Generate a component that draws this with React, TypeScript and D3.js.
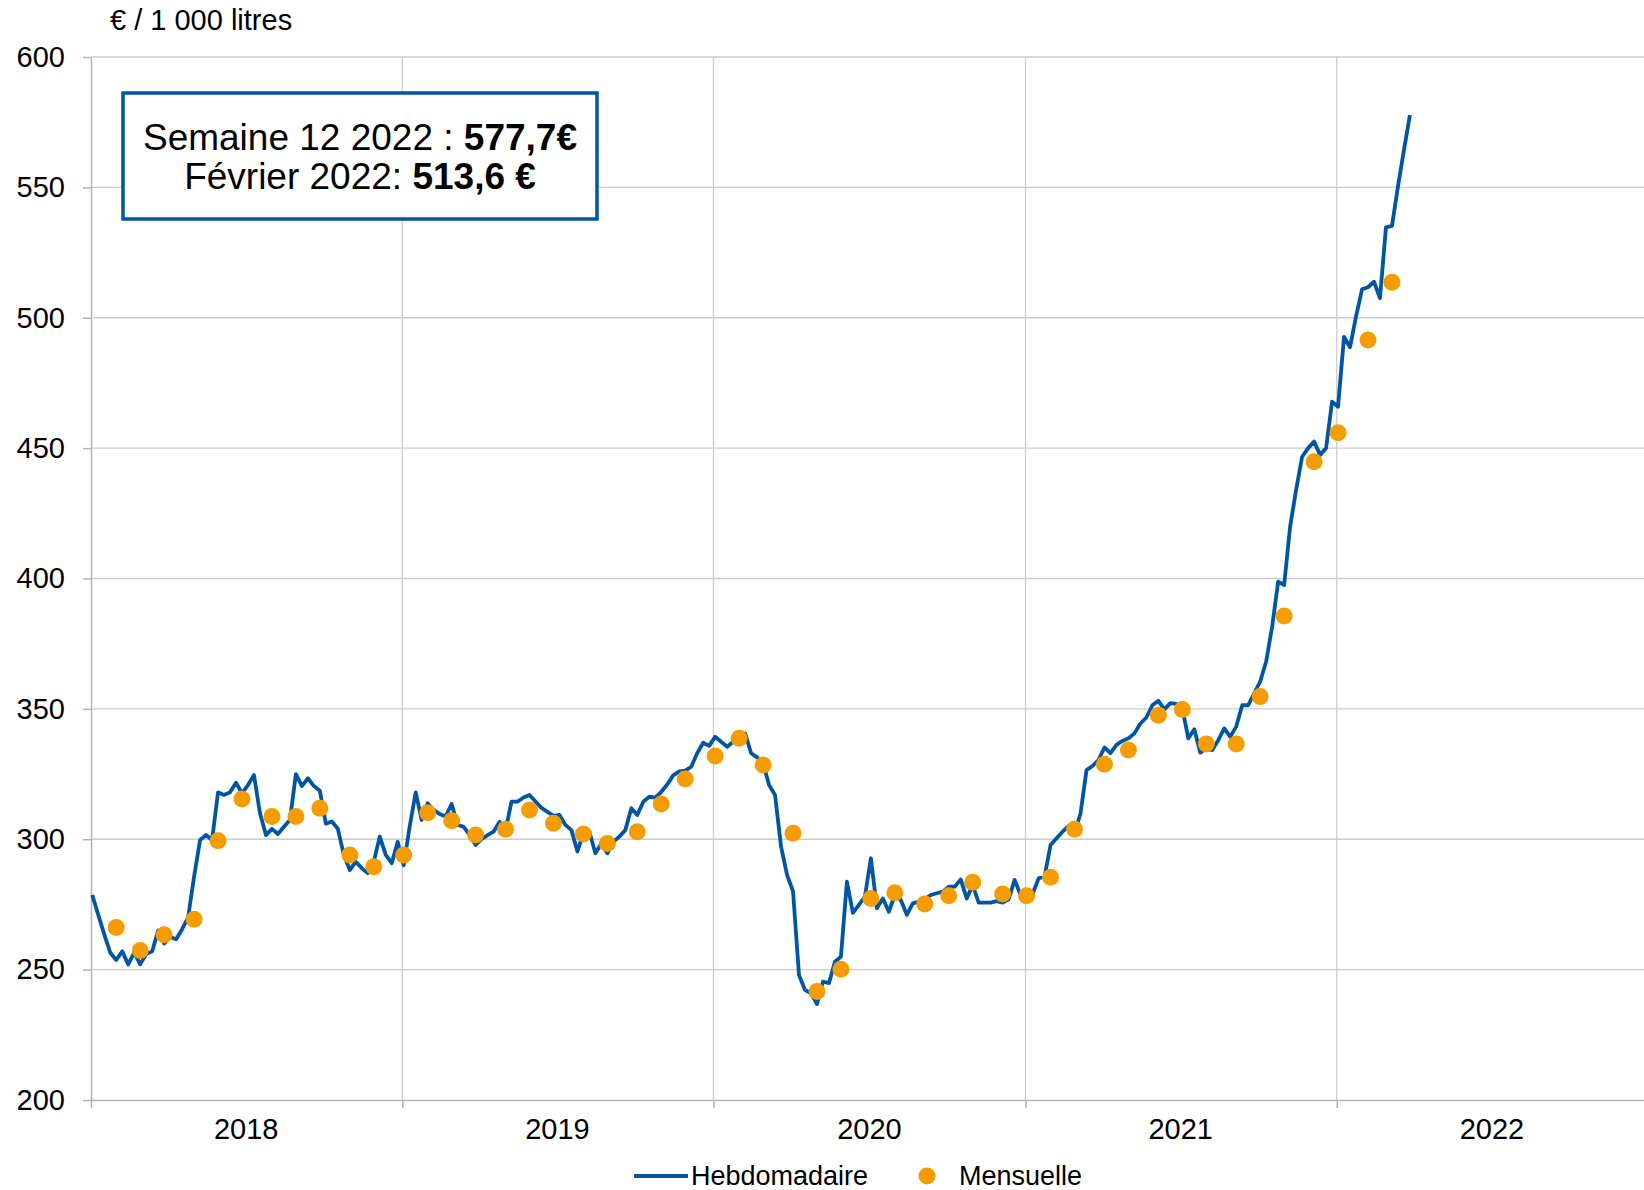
import * as React from 'react';
import * as d3 from 'd3';

const WIDTH = 1644;
const HEIGHT = 1190;

const YEARS = [2018, 2019, 2020, 2021, 2022];
const Y_TICKS = [200, 250, 300, 350, 400, 450, 500, 550, 600];

// weekly price (€ / 1000 l), one value per ISO week
const weekly2018 = [
  278.6, 271, 263.5, 256.5, 253.7, 257, 252, 256.5, 252, 256,
  257, 265, 260, 262.6, 261.6, 265.5, 270, 285.7, 299.7, 301.6,
  299.7, 318, 317, 318, 321.7, 317.6, 320.8, 324.6, 310, 301.6,
  304, 302, 304.8, 307.4, 325, 320.4, 323.4, 320.4, 318.6, 306,
  306.8, 304, 294, 288.2, 291.4, 288.9, 287, 291.4, 301, 294,
  290.8, 299,
];
const weekly2019 = [
  290, 305, 318, 307.4, 313.8, 311.2, 309.7, 308.7, 313.5, 305.5,
  304.8, 301.6, 297.8, 300, 301.6, 302.9, 306.7, 303.5, 314.4, 314.4,
  316, 317, 314.5, 312, 310.5, 309, 309.3, 305.5, 303.5, 295.3,
  302.3, 302.9, 294.6, 298.4, 294.6, 299, 301, 303.5, 311.9, 309.3,
  314.4, 316.3, 316, 318.2, 321, 324.5, 326, 326.3, 327.8, 333,
  337, 335.8,
];
const weekly2020 = [
  339.3, 337.4, 335.5, 337.4, 339.3, 340.6, 333, 331.4, 329.1, 320.8,
  317, 297.2, 286.3, 280, 247.9, 242.2, 240.9, 236.8, 245.4, 244.8,
  253, 255, 283.7, 271.8, 274.8, 278, 292.7, 273.5, 277.3, 272.2,
  278.6, 276.7, 271, 275.4, 276.1, 277, 278.6, 279.3, 279.9, 281.8,
  281.8, 284.6, 277.3, 282.4, 275.7, 275.7, 275.7, 276.3, 275.7, 277,
  284.4, 278.6, 278,
];
const weekly2021 = [
  279, 285, 285.7, 297.8, 300.4, 302.9, 305, 302.3, 309.9, 326.5,
  328.1, 330.4, 335.2, 333, 336.2, 337.7, 338.7, 340.6, 344.4, 346.7,
  351.4, 353.1, 349.8, 352.2, 351.9, 350.2, 338.7, 342.2, 333.2, 334.9,
  334.2, 338, 342.5, 339.3, 343.2, 351.4, 351.4, 356, 360.5, 368.2,
  381.6, 398.8, 397.5, 419.9, 434, 446.7, 450, 452.5, 447.4, 450,
  467.8, 465.9,
];
const weekly2022 = [
  492.7, 488.7, 500.4, 510.9, 511.7, 513.8, 507.5, 534.7, 535.2, 550.3,
  564.3, 577.7,
];

// monthly average, January to December
const monthly2018 = [266.2, 257.3, 263.4, 269.3, 299.4, 315.4, 308.7, 308.7, 311.9, 294, 289.5, 294];
const monthly2019 = [310.2, 307.1, 301.6, 303.8, 311.2, 306.1, 302, 298.4, 302.9, 313.5, 323.1, 331.9];
const monthly2020 = [338.7, 328.5, 302.3, 241.6, 250.1, 277.3, 279.5, 275.2, 278.3, 283.5, 279, 278.3];
const monthly2021 = [285.4, 303.8, 328.8, 334.2, 347.6, 349.8, 336.5, 336.5, 354.7, 385.6, 444.8, 455.9];
const monthly2022 = [491.5, 513.6];

const BLUE = '#0055a4';
const ORANGE = '#f59c00';
const GRID = '#cccccc';
const AXIS = '#b3b3b3';
const FONT = '"Liberation Sans", Arial, sans-serif';
const DAY = 86400000;

export default function App() {
  const ref = React.useRef<SVGSVGElement>(null);

  React.useEffect(() => {
    const svg = d3.select(ref.current);
    svg.selectAll('*').remove();

    const x = d3
      .scaleTime()
      .domain([new Date(2018, 0, 1), new Date(2023, 0, 1)])
      .range([91, 1648]);
    const y = d3.scaleLinear().domain([200, 600]).range([1100, 57]);

    // weeks are laid out as 52 slots per year, like the source chart
    const start = new Date(2018, 0, 1);
    const weekX = (idx: number) =>
      x(new Date(start.getTime() + (1.5 + (idx * 365.25) / 52) * DAY));

    const weekly = [
      ...weekly2018,
      ...weekly2019,
      ...weekly2020,
      ...weekly2021,
      ...weekly2022,
    ].map((v, i) => ({ idx: i, value: v }));

    // a month is drawn on the week that holds its last day
    const monthly = [monthly2018, monthly2019, monthly2020, monthly2021, monthly2022]
      .flatMap((vals, yi) =>
        vals.map((v, m) => {
          const lastDay = new Date(YEARS[yi], m + 1, 0);
          return { idx: d3.timeMonday.count(start, lastDay), value: v };
        }),
      );

    svg
      .append('rect')
      .attr('width', WIDTH)
      .attr('height', HEIGHT)
      .attr('fill', '#fff');

    // grid
    svg
      .append('g')
      .selectAll('line')
      .data(Y_TICKS.slice(1))
      .enter()
      .append('line')
      .attr('x1', 91)
      .attr('x2', WIDTH)
      .attr('y1', d => y(d))
      .attr('y2', d => y(d))
      .attr('stroke', GRID)
      .attr('stroke-width', 1.3);

    svg
      .append('g')
      .selectAll('line')
      .data(YEARS.slice(1))
      .enter()
      .append('line')
      .attr('x1', d => x(new Date(d, 0, 1)))
      .attr('x2', d => x(new Date(d, 0, 1)))
      .attr('y1', y(600))
      .attr('y2', y(200))
      .attr('stroke', GRID)
      .attr('stroke-width', 1.3);

    // axes
    const yAxis = svg
      .append('g')
      .attr('transform', `translate(${x.range()[0]},0)`)
      .call(
        d3
          .axisLeft(y)
          .tickValues(Y_TICKS)
          .tickSize(8)
          .tickSizeOuter(0)
          .tickPadding(18)
          .tickFormat(d => String(d)),
      );
    yAxis.select('.domain').attr('stroke', AXIS).attr('stroke-width', 1.5);
    yAxis.selectAll('.tick line').attr('stroke', AXIS).attr('stroke-width', 1.5);
    yAxis
      .selectAll('.tick text')
      .attr('fill', '#000')
      .style('font-family', FONT)
      .style('font-size', '29px');

    const xAxis = svg
      .append('g')
      .attr('transform', `translate(0,${y(200)})`)
      .call(
        d3
          .axisBottom(x)
          .tickValues(YEARS.map(yr => new Date(yr, 0, 1)))
          .tickSize(8)
          .tickSizeOuter(0)
          .tickFormat(() => ''),
      );
    xAxis.select('.domain').attr('stroke', AXIS).attr('stroke-width', 1.5);
    xAxis.selectAll('.tick line').attr('stroke', AXIS).attr('stroke-width', 1.5);

    svg
      .append('g')
      .selectAll('text')
      .data(YEARS)
      .enter()
      .append('text')
      .attr('x', d => x(new Date(d, 6, 2)))
      .attr('y', 1139)
      .attr('text-anchor', 'middle')
      .style('font-family', FONT)
      .style('font-size', '29px')
      .text(d => String(d));

    svg
      .append('text')
      .attr('x', 110)
      .attr('y', 30)
      .style('font-family', FONT)
      .style('font-size', '29px')
      .text('€ / 1 000 litres');

    // weekly line
    const line = d3
      .line<{ idx: number; value: number }>()
      .x(d => weekX(d.idx))
      .y(d => y(d.value));

    svg
      .append('path')
      .datum(weekly)
      .attr('d', line)
      .attr('fill', 'none')
      .attr('stroke', BLUE)
      .attr('stroke-width', 3.8)
      .attr('stroke-linejoin', 'round');

    // monthly dots
    svg
      .append('g')
      .selectAll('circle')
      .data(monthly)
      .enter()
      .append('circle')
      .attr('cx', d => weekX(d.idx))
      .attr('cy', d => y(d.value))
      .attr('r', 8.5)
      .attr('fill', ORANGE);

    // annotation box
    const note = svg.append('g');
    note
      .append('rect')
      .attr('x', 123)
      .attr('y', 93)
      .attr('width', 474)
      .attr('height', 126)
      .attr('fill', '#fff')
      .attr('stroke', BLUE)
      .attr('stroke-width', 3.5);
    const l1 = note
      .append('text')
      .attr('x', 360)
      .attr('y', 150)
      .attr('text-anchor', 'middle')
      .style('font-family', FONT)
      .style('font-size', '37px');
    l1.append('tspan').text('Semaine 12 2022 : ');
    l1.append('tspan').attr('font-weight', 'bold').text('577,7€');
    const l2 = note
      .append('text')
      .attr('x', 360)
      .attr('y', 189)
      .attr('text-anchor', 'middle')
      .style('font-family', FONT)
      .style('font-size', '37px');
    l2.append('tspan').text('Février 2022: ');
    l2.append('tspan').attr('font-weight', 'bold').text('513,6 €');

    // legend
    const legend = svg.append('g').style('font-family', FONT).style('font-size', '27px');
    legend
      .append('line')
      .attr('x1', 634)
      .attr('x2', 688)
      .attr('y1', 1176)
      .attr('y2', 1176)
      .attr('stroke', BLUE)
      .attr('stroke-width', 4);
    legend.append('text').attr('x', 691).attr('y', 1184.5).text('Hebdomadaire');
    legend
      .append('circle')
      .attr('cx', 927)
      .attr('cy', 1176)
      .attr('r', 8.5)
      .attr('fill', ORANGE);
    legend.append('text').attr('x', 959).attr('y', 1184.5).text('Mensuelle');
  }, []);

  return (
    <svg
      ref={ref}
      width={WIDTH}
      height={HEIGHT}
      style={{ position: 'absolute', left: 0, top: 0 }}
    />
  );
}
